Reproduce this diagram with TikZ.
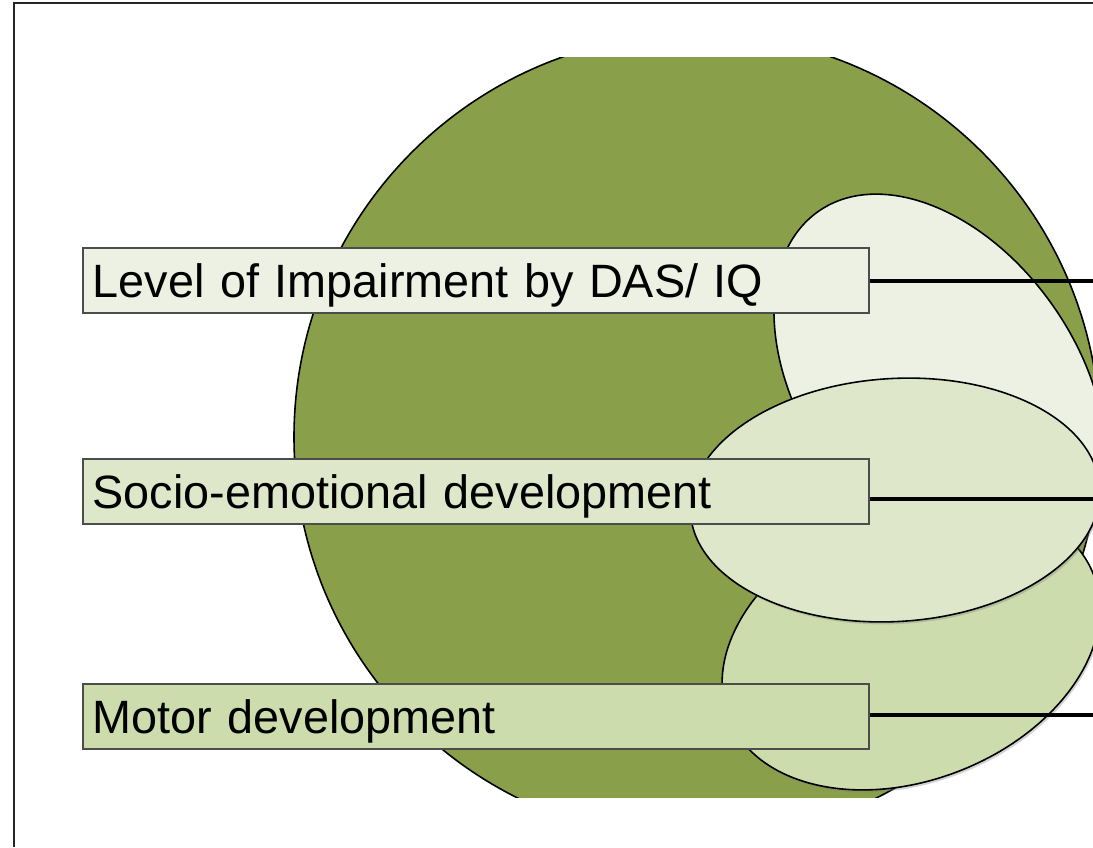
\documentclass[tikz,border=0pt]{standalone}
\usepackage{fontspec}
\setmainfont{Liberation Sans}
\usetikzlibrary{shadows}

\definecolor{discgreen}{HTML}{8A9F4A}
\definecolor{palegreen}{HTML}{EDF1E3}
\definecolor{softgreen}{HTML}{DFE7CA}
\definecolor{leafgreen}{HTML}{CDDCAC}

\tikzset{
  blob/.style={draw=black, line width=0.45pt,
    drop shadow={shadow xshift=0.5pt, shadow yshift=-0.7pt, opacity=0.35}},
  labelbox/.style={draw=black!70, line width=0.45pt, anchor=west,
    text width=7.66cm, inner xsep=0.1cm, inner ysep=0pt, align=left,
    minimum height=0.65cm, text height=9.5pt, text depth=0pt,
    font=\fontsize{13.3pt}{16pt}\selectfont},
  leader/.style={line width=1.1pt},
}

\begin{document}
\begin{tikzpicture}[x=0.01cm,y=-0.01cm]
    \useasboundingbox (0,0) rectangle (1093,847);
    \clip (0,0) rectangle (1093,847);

    \draw[line width=0.7pt, black!85] (14,847) -- (14,3) -- (1093,3);

    \begin{scope}
        \clip (0,57) rectangle (1093,797);% slide cuts the disc
        \draw[fill=discgreen, line width=0.45pt] (697,437) circle [radius=403];
    \end{scope}

    \path[blob, fill=palegreen] (940,385) circle [x radius=212, y radius=138, rotate=-55];
    \path[blob, fill=leafgreen] (911,646) circle [x radius=196, y radius=134, rotate=21.5];
    \path[blob, fill=softgreen] (895,500) circle [x radius=205, y radius=121.5, rotate=3.5];

    \node[labelbox, fill=palegreen] (impair) at (82,280.5) {Level of Impairment by DAS/ IQ};
    \node[labelbox, fill=softgreen] (socio) at (82,491.5) {Socio-emotional development};
    \node[labelbox, fill=leafgreen] (motor) at (82,716.5) {Motor development};

    \coordinate (impairend) at (1100,281);
    \coordinate (socioend) at (1100,499);
    \coordinate (motorend) at (1100,715);

    \draw[leader] (impair.east |- impairend) -- (impairend);
    \draw[leader] (socio.east |- socioend) -- (socioend);
    \draw[leader] (motor.east |- motorend) -- (motorend);
\end{tikzpicture}
\end{document}
